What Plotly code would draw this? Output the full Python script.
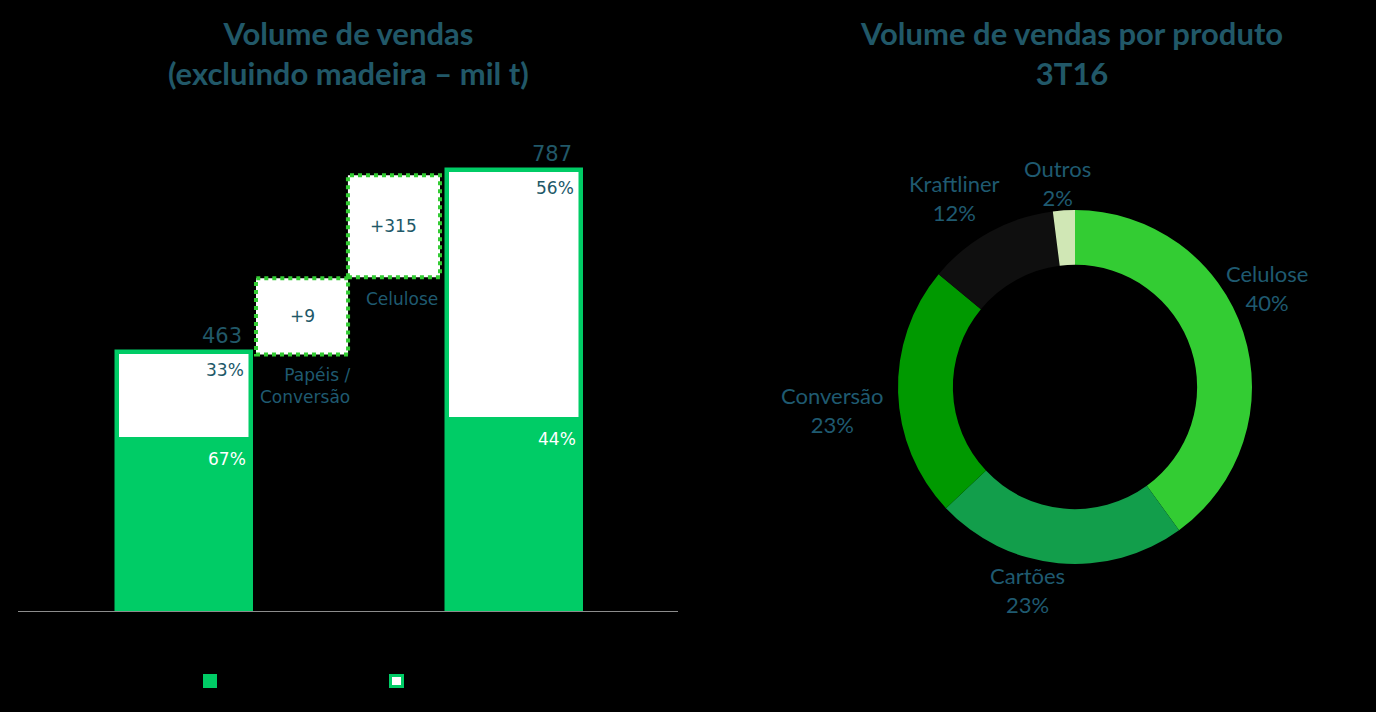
import plotly.graph_objects as go

W, H = 1376, 712

# ---------------- data ----------------
wf_categories = ["3T15", "Papéis / Conversão", "Celulose", "3T16"]
total_labels = ["3T15", "3T16"]
totals = [463, 787]                 # mil t
mi_share = [67, 44]                 # % mercado interno (green)
exp_share = [33, 56]                # % exportação (white)
step_labels = ["Papéis /<br>Conversão", "Celulose"]
step_values = [9, 315]
# schematic step boxes as drawn on the chart's axis (not to scale)
step_box_bottom = [458, 596]
step_box_top = [594, 778]

# layout positions of the columns (axis units, 1 unit = 137 px)
x_total = [0.007, 2.416]
x_step = [0.869, 1.54]
w_total = 0.982
w_step = 0.672

pie_labels = ["Celulose", "Cartões", "Conversão", "Kraftliner", "Outros"]
pie_values = [40, 23, 23, 12, 2]
pie_colors = ["#33CC33", "#129E4B", "#009900", "#0F0F0F", "#D0E7B5"]

GREEN = "#00CC66"
DOT_GREEN = "#33CC33"
TEAL = "#215868"
LABEL = "#1F5A70"


def px_x(p):
    return p / W


def px_y(p):
    return 1 - p / H


fig = go.Figure()

green_part = [t * s / 100 for t, s in zip(totals, mi_share)]
white_part = [t * s / 100 for t, s in zip(totals, exp_share)]

fig.add_trace(go.Bar(x=x_total, y=green_part, base=[0, 0], width=w_total,
                     marker=dict(color=GREEN, line=dict(width=0)),
                     showlegend=False, hoverinfo="skip"))
fig.add_trace(go.Bar(x=x_total, y=white_part, base=green_part, width=w_total,
                     marker=dict(color="white", line=dict(width=0)),
                     showlegend=False, hoverinfo="skip"))
fig.add_trace(go.Bar(x=x_total, y=totals, base=[0, 0], width=w_total,
                     marker=dict(color="rgba(0,0,0,0)", line=dict(width=4.5, color=GREEN)),
                     showlegend=False, hoverinfo="skip"))

shapes = []
for xc, b, t in zip(x_step, step_box_bottom, step_box_top):
    shapes.append(dict(type="rect", xref="x", yref="y",
                       x0=xc - w_step / 2, x1=xc + w_step / 2, y0=b, y1=t,
                       fillcolor="white", line=dict(color=DOT_GREEN, width=4, dash="dot"),
                       layer="above"))

ann = []
bar_font = "DejaVu Sans"
for xc, t, g, ms, es in zip(x_total, totals, green_part, mi_share, exp_share):
    ann.append(dict(x=xc + 0.44, y=t, xref="x", yref="y", text=str(t), showarrow=False,
                    xanchor="right", yanchor="bottom", yshift=2,
                    font=dict(family=bar_font, size=21, color=TEAL)))
    ann.append(dict(x=xc + 0.45, y=t, xref="x", yref="y", text=f"{es}%", showarrow=False,
                    xanchor="right", yanchor="top", yshift=-6,
                    font=dict(family=bar_font, size=17, color=TEAL)))
    ann.append(dict(x=xc + 0.47, y=g, xref="x", yref="y", text=f"{ms}%", showarrow=False,
                    xanchor="right", yanchor="top", yshift=-10,
                    font=dict(family=bar_font, size=17, color="white")))

for xc, b, t, v in zip(x_step, step_box_bottom, step_box_top, step_values):
    ann.append(dict(x=xc, y=(b + t) / 2, xref="x", yref="y", text=f"+{v}", showarrow=False,
                    xanchor="center", yanchor="middle",
                    font=dict(family=bar_font, size=17, color=TEAL)))

ann.append(dict(x=x_step[0] + w_step / 2 + 0.03, y=step_box_bottom[0], xref="x", yref="y",
                text=step_labels[0], showarrow=False, xanchor="right", yanchor="top",
                align="right", yshift=-8,
                font=dict(family=bar_font, size=17, color=LABEL)))
ann.append(dict(x=x_step[1] + 0.06, y=step_box_bottom[1], xref="x", yref="y",
                text=step_labels[1], showarrow=False, xanchor="center", yanchor="top",
                yshift=-10,
                font=dict(family=bar_font, size=17, color=LABEL)))

# titles
title_font = dict(family="Lato", size=31, color=TEAL)
ann.append(dict(x=px_x(348), y=px_y(53), xref="paper", yref="paper",
                text="<b>Volume de vendas<br>(excluindo madeira – mil t)</b>", showarrow=False,
                xanchor="center", yanchor="middle", font=title_font))
ann.append(dict(x=px_x(1071), y=px_y(53), xref="paper", yref="paper",
                text="<b>Volume de vendas por produto<br>3T16</b>", showarrow=False,
                xanchor="center", yanchor="middle", font=title_font))

# donut
fig.add_trace(go.Pie(labels=pie_labels, values=pie_values, hole=0.69, sort=False,
                     direction="clockwise", rotation=0,
                     marker=dict(colors=pie_colors, line=dict(width=0)),
                     textinfo="none", showlegend=False, hoverinfo="label+percent",
                     domain=dict(x=[px_x(898), px_x(1252)], y=[px_y(564), px_y(210)])))

pie_label_pos = {"Celulose": (1267, 288), "Cartões": (1027, 590), "Conversão": (832, 410),
                 "Kraftliner": (955, 198), "Outros": (1057, 183)}
for lab, val in zip(pie_labels, pie_values):
    px, py = pie_label_pos[lab]
    ann.append(dict(x=px_x(px), y=px_y(py), xref="paper", yref="paper",
                    text=f"{lab}<br>{val}%", showarrow=False, xanchor="center", yanchor="middle",
                    font=dict(family="Lato", size=22, color=LABEL)))

# legend markers (text not visible in reference)
shapes.append(dict(type="rect", xref="paper", yref="paper",
                   x0=px_x(203), x1=px_x(217), y0=px_y(688), y1=px_y(674),
                   fillcolor=GREEN, line=dict(width=0)))
shapes.append(dict(type="rect", xref="paper", yref="paper",
                   x0=px_x(390.5), x1=px_x(402.5), y0=px_y(686.5), y1=px_y(675.5),
                   fillcolor="white", line=dict(color=GREEN, width=3)))

fig.update_layout(
    width=W, height=H, margin=dict(l=0, r=0, t=0, b=0),
    paper_bgcolor="black", plot_bgcolor="black",
    barmode="overlay", bargap=0,
    shapes=shapes, annotations=ann,
    xaxis=dict(domain=[px_x(18), px_x(678)], range=[-1.204, 3.613], showgrid=False,
               zeroline=False, showticklabels=False, showline=True, linecolor="#8C8C8C",
               linewidth=1, fixedrange=True),
    yaxis=dict(domain=[px_y(611), px_y(107)], range=[0, 900], showgrid=False,
               zeroline=False, showticklabels=False, showline=False, fixedrange=True),
)

fig.write_html("out.html")
